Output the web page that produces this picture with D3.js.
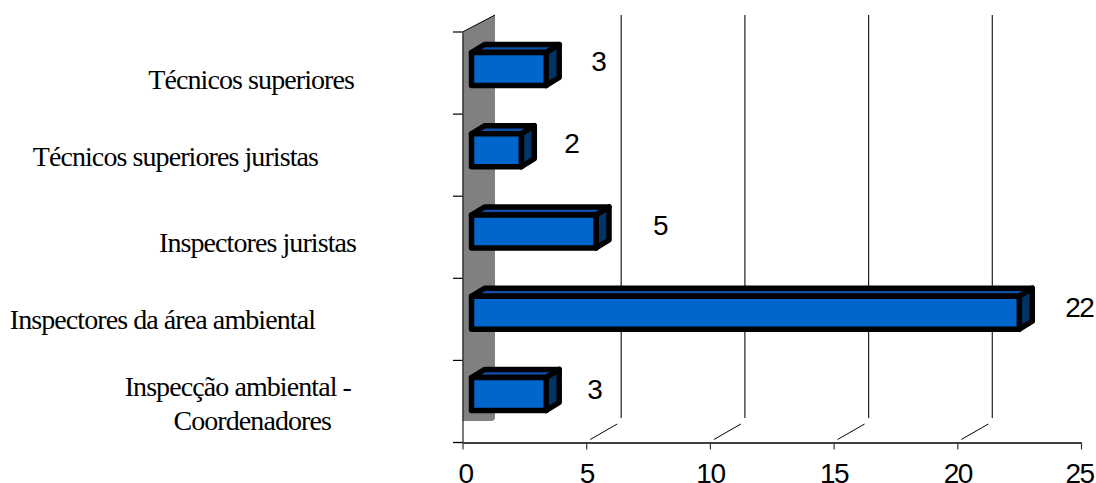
<!DOCTYPE html>
<html>
<head>
<meta charset="utf-8">
<script src="https://d3js.org/d3.v7.min.js"></script>
<style>
html, body { margin: 0; padding: 0; background: #fff; overflow: hidden; }
svg { display: block; }
.cat { font-family: "Liberation Serif", serif; font-size: 28px; letter-spacing: -0.92px; fill: #000; }
.num { font-family: "Liberation Sans", sans-serif; font-size: 28px; letter-spacing: -1.5px; fill: #000; }
</style>
</head>
<body>
<svg></svg>
<script>
let categories = ['Técnicos superiores', 'Técnicos superiores juristas', 'Inspectores juristas', 'Inspectores da área ambiental', 'Inspecção ambiental - Coordenadores']
let values = [3, 2, 5, 22, 3]
let xTicks = [0, 5, 10, 15, 20, 25]

let width = 1096
let height = 483

let floorY = 442.5
let depthX = 35

let svg = d3.select('svg').attr('width', width).attr('height', height)

let xScale = d3.scaleLinear().domain([0, 25]).range([462.5, 1081])
let yScale = d3.scaleBand().domain(categories).range([32, floorY])
// bars sit right of and above the axis in the 3d projection
let barXScale = d3.scaleLinear().domain([0, 25]).range([471.5, 1094])
let barYScale = d3.scaleBand().domain(categories).range([28.4, 434.6])

// wall
svg.append('path')
    .attr('d', `M${xScale(0)},32 L495,15 L495,417 Q495,421 491,421 L${xScale(0)},421 Z`)
    .attr('fill', '#808080')

// gridlines and floor diagonals
xTicks.slice(1, 5).forEach((t) => {
    svg.append('line').attr('x1', xScale(t) + depthX).attr('x2', xScale(t) + depthX)
        .attr('y1', 15).attr('y2', 418).attr('stroke', '#222').attr('stroke-width', 1.2)
    svg.append('line').attr('x1', xScale(t) + 4).attr('x2', xScale(t) + 31)
        .attr('y1', floorY - 3).attr('y2', 424).attr('stroke', '#000').attr('stroke-width', 1)
})

// axes
let xAxis = d3.axisBottom(xScale).tickValues(xTicks).tickSize(7).tickSizeOuter(0)
let gx = svg.append('g').attr('transform', `translate(0,${floorY})`).call(xAxis)
gx.attr('font-family', null).attr('font-size', null)
gx.select('.domain').attr('stroke', '#000').attr('stroke-width', 1.3)
gx.selectAll('.tick line').attr('stroke', '#333').attr('stroke-width', 1.2)
gx.selectAll('.tick text').attr('class', 'num').attr('y', 40.5).attr('dy', 0)
    .attr('dx', (d) => d == 0 ? 2.5 : (d == 25 ? -2 : 0))
svg.append('line').attr('x1', 453).attr('x2', xScale(0)).attr('y1', floorY).attr('y2', floorY).attr('stroke', '#000').attr('stroke-width', 1.3)

let yAxis = d3.axisLeft(yScale).tickFormat('').tickSize(0)
let gy = svg.append('g').attr('transform', `translate(${xScale(0)},0)`).call(yAxis)
gy.select('.domain').attr('stroke', '#222').attr('stroke-width', 1.2)
categories.forEach((c) => {
    svg.append('line').attr('x1', 453).attr('x2', xScale(0))
        .attr('y1', yScale(c)).attr('y2', yScale(c)).attr('stroke', '#000').attr('stroke-width', 1.2)
})
svg.append('line').attr('x1', xScale(0)).attr('x2', 495).attr('y1', 32).attr('y2', 15).attr('stroke', '#000')

// bars
let barH = 33
let dx = 13
let dy = 8
let numShift = [52, 50, 64, 60, 48]
categories.forEach((c, i) => {
    let x0 = barXScale(0)
    let x1 = barXScale(values[i])
    let y0 = barYScale(c) + barYScale.bandwidth() / 2 - barH / 2
    let g = svg.append('g').attr('stroke', '#000').attr('stroke-width', 5.5).attr('stroke-linejoin', 'round')
    g.append('path').attr('d', `M${x0},${y0} L${x0 + dx},${y0 - dy} L${x1 + dx},${y0 - dy} L${x1},${y0} Z`).attr('fill', '#0F4FA8')
    g.append('path').attr('d', `M${x1},${y0} L${x1 + dx},${y0 - dy} L${x1 + dx},${y0 + barH - dy} L${x1},${y0 + barH} Z`).attr('fill', '#003366')
    g.append('rect').attr('x', x0).attr('y', y0).attr('width', x1 - x0).attr('height', barH).attr('fill', '#0066CC')
    svg.append('text').attr('class', 'num').attr('x', x1 + numShift[i])
        .attr('y', yScale(c) + yScale.bandwidth() / 2 - 2).attr('text-anchor', 'middle').text(values[i])
})

// category labels, placed by hand like the original
let labelX = [354, 318, 356, 315, 331]
let labelDy = [16, 11, 15, 10, 29]
categories.forEach((c, i) => {
    let cy = yScale(c) + yScale.bandwidth() / 2
    if (c.includes(' - ')) {
        let parts = c.split(' - ')
        svg.append('text').attr('class', 'cat').attr('x', 351).attr('y', cy - 5).attr('text-anchor', 'end').text(parts[0] + ' -')
        svg.append('text').attr('class', 'cat').attr('x', labelX[i]).attr('y', cy + labelDy[i]).attr('text-anchor', 'end').text(parts[1])
    } else {
        svg.append('text').attr('class', 'cat').attr('x', labelX[i]).attr('y', cy + labelDy[i]).attr('text-anchor', 'end').text(c)
    }
})
</script>
</body>
</html>
